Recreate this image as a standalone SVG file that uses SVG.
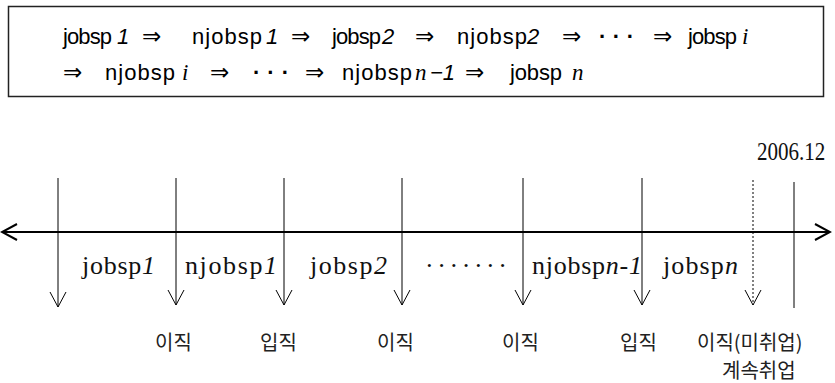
<svg xmlns="http://www.w3.org/2000/svg" width="835" height="383" viewBox="0 0 835 383">
<defs>
<marker id="v" markerWidth="18" markerHeight="18" viewBox="-9 -16 18 18" refX="0" refY="0" orient="0" markerUnits="userSpaceOnUse">
<path d="M-8,-15 L0,0 L8,-15" fill="none" stroke="#000" stroke-width="1"/>
</marker>
<marker id="h" markerWidth="20" markerHeight="20" viewBox="-18 -10 20 20" refX="0" refY="0" orient="auto" markerUnits="userSpaceOnUse">
<path d="M-15,-8 L0,0 L-15,8" fill="none" stroke="#000" stroke-width="2"/>
</marker>
</defs>
<style>
.s{font-family:"Liberation Sans","DejaVu Sans",sans-serif;font-size:22px;fill:#000}
.ar{font-family:"DejaVu Sans",sans-serif;font-size:23px;fill:#000}
.d{font-family:"Liberation Sans",sans-serif;font-size:22px;font-weight:bold;fill:#000}
.mi{font-family:"Liberation Serif",serif;font-style:italic;font-size:23px;fill:#000}
.si{font-style:italic}
.r{font-family:"Liberation Serif",serif;font-size:26px;fill:#111}
.k{font-family:"Noto Sans CJK KR",sans-serif;font-size:20px;fill:#222}
.ln{stroke:#000;stroke-width:1;fill:none}
</style>
<g id="formula">
<rect x="8.5" y="6.5" width="815" height="90" fill="#fff" stroke="#222" stroke-width="1.5"/>
<text class="s" x="63" y="44" textLength="49">jobsp</text>
<text class="s si" x="117" y="44">1</text>
<text class="ar" x="142" y="44">⇒</text>
<text class="s" x="192" y="44" textLength="70">njobsp</text>
<text class="s si" x="266" y="44">1</text>
<text class="ar" x="291" y="44">⇒</text>
<text class="s" x="332" y="44" textLength="49">jobsp</text>
<text class="s si" x="382" y="44">2</text>
<text class="ar" x="415" y="44">⇒</text>
<text class="s" x="457" y="44" textLength="70">njobsp</text>
<text class="s si" x="527" y="44">2</text>
<text class="ar" x="562" y="44">⇒</text>
<text class="d" x="599" y="44" textLength="35">···</text>
<text class="ar" x="653" y="44">⇒</text>
<text class="s" x="688" y="44" textLength="49">jobsp</text>
<text class="mi" x="742" y="44">i</text>
<text class="ar" x="63" y="80">⇒</text>
<text class="s" x="105" y="80" textLength="70">njobsp</text>
<text class="mi" x="182" y="80">i</text>
<text class="ar" x="210" y="80">⇒</text>
<text class="d" x="253" y="80" textLength="36">···</text>
<text class="ar" x="305" y="80">⇒</text>
<text class="s" x="342" y="80" textLength="70">njobsp</text>
<text class="mi" x="415" y="80">n</text>
<text class="s si" x="430" y="80">−1</text>
<text class="ar" x="465" y="80">⇒</text>
<text class="s" x="510" y="80" textLength="52">jobsp</text>
<text class="mi" x="572" y="80">n</text>
</g>
<g id="timeline">
<line x1="830" y1="232" x2="2" y2="232" stroke="#000" stroke-width="2" marker-end="url(#h)"/>
<line x1="829" y1="232" x2="830" y2="232" stroke="#000" stroke-width="2" marker-end="url(#h)"/>
</g>
<g id="connectors">
<line class="ln" x1="58" y1="178" x2="58" y2="307" marker-end="url(#v)"/>
<line class="ln" x1="176" y1="178" x2="176" y2="305" marker-end="url(#v)"/>
<line class="ln" x1="284" y1="178" x2="284" y2="305" marker-end="url(#v)"/>
<line class="ln" x1="402" y1="178" x2="402" y2="305" marker-end="url(#v)"/>
<line class="ln" x1="523" y1="178" x2="523" y2="305" marker-end="url(#v)"/>
<line class="ln" x1="642" y1="178" x2="642" y2="305" marker-end="url(#v)"/>
<line class="ln" x1="753" y1="180" x2="753" y2="305" stroke-dasharray="2,2" stroke-width="1.5" marker-end="url(#v)"/>
<line class="ln" x1="794" y1="182" x2="794" y2="308"/>
</g>
<g id="date"><text class="r" transform="translate(757,160) scale(0.81,1)" x="0" y="0" font-size="28">2006.12</text></g>
<g id="periods">
<text class="r" x="82" y="274" textLength="73">jobsp<tspan class="si">1</tspan></text>
<text class="r" x="185" y="274" textLength="92">njobsp<tspan class="si">1</tspan></text>
<text class="r" x="310" y="274" textLength="77">jobsp<tspan class="si">2</tspan></text>
<text class="r" x="425" y="274" textLength="82">·······</text>
<text class="r" x="532" y="274" textLength="110">njobsp<tspan class="si">n</tspan><tspan class="si">-1</tspan></text>
<text class="r" x="663" y="274" textLength="75">jobsp<tspan class="si">n</tspan></text>
</g>
<g id="events">
<text class="k" x="155" y="350">이직</text>
<text class="k" x="260" y="350">입직</text>
<text class="k" x="377" y="350">이직</text>
<text class="k" x="502" y="350">이직</text>
<text class="k" x="620" y="350">입직</text>
<text class="k" x="697" y="350">이직(미취업)</text>
<text class="k" x="722" y="378">계속취업</text>
</g>
</svg>
